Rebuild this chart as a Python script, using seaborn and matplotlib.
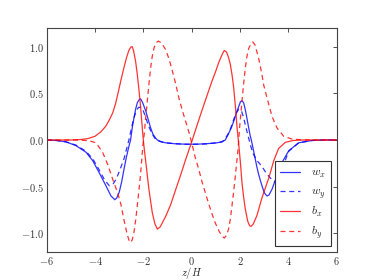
import matplotlib
matplotlib.use("Agg")
import matplotlib.pyplot as plt
import seaborn as sns
from matplotlib.ticker import FuncFormatter, MultipleLocator

# values
bx_z = [-6, -5, -4.6, -4.3, -4.0, -3.75, -3.55, -3.4, -3.27, -3.15, -3.06, -2.93, -2.8, -2.7,
        -2.6, -2.52, -2.46, -2.4, -2.32, -2.25, -2.18, -2.11, -2.02, -1.97, -1.88, -1.77, -1.63,
        -1.52, -1.42, -1.3, -1.08, -0.88, -0.66, -0.45, -0.25, 0.0, 0.2, 0.43, 0.64, 0.84, 1.0,
        1.12, 1.25, 1.35, 1.45, 1.53, 1.6, 1.67, 1.74, 1.81, 1.88, 1.95, 2.02, 2.08, 2.15, 2.22,
        2.32, 2.4, 2.46, 2.55, 2.7, 2.91, 3.12, 3.19, 3.4, 3.6, 3.88, 4.2, 4.6, 5, 6]
bx = [0, 0, 0.005, 0.015, 0.04, 0.09, 0.15, 0.22, 0.29, 0.39, 0.49, 0.64, 0.78, 0.88,
      0.96, 0.995, 1.0, 0.95, 0.84, 0.70, 0.53, 0.34, 0.05, -0.08, -0.28, -0.53, -0.78,
      -0.90, -0.955, -0.93, -0.82, -0.70, -0.53, -0.37, -0.21, -0.02, 0.14, 0.32, 0.48, 0.63, 0.74,
      0.83, 0.91, 0.96, 0.94, 0.88, 0.81, 0.70, 0.56, 0.36, 0.13, -0.05, -0.25, -0.45, -0.61, -0.74,
      -0.87, -0.92, -0.925, -0.90, -0.81, -0.62, -0.46, -0.41, -0.22, -0.09, -0.025, -0.005, 0, 0, 0]

by_z = [-6, -5, -4.6, -4.24, -3.96, -3.69, -3.48, -3.27, -3.06, -2.93, -2.8, -2.68, -2.6, -2.53,
        -2.46, -2.39, -2.32, -2.25, -2.18, -2.11, -2.02, -1.97, -1.9, -1.84, -1.77, -1.7, -1.63,
        -1.56, -1.48, -1.38, -1.25, -1.08, -0.94, -0.8, -0.66, -0.53, -0.39, -0.25, -0.1, 0.01,
        0.15, 0.29, 0.42, 0.56, 0.7, 0.84, 0.98, 1.12, 1.25, 1.35, 1.45, 1.53, 1.6, 1.67, 1.74,
        1.81, 1.88, 1.92, 1.98, 2.08, 2.15, 2.22, 2.29, 2.36, 2.45, 2.53, 2.62, 2.77, 2.91, 2.98,
        3.12, 3.33, 3.53, 3.81, 4.15, 4.6, 5, 6]
by = [0, 0, -0.002, -0.008, -0.03, -0.13, -0.26, -0.42, -0.57, -0.69, -0.86, -1.0, -1.07, -1.10,
      -1.07, -0.99, -0.86, -0.70, -0.53, -0.35, -0.06, 0.05, 0.25, 0.41, 0.60, 0.77, 0.90,
      0.985, 1.04, 1.06, 1.04, 0.97, 0.87, 0.74, 0.60, 0.45, 0.32, 0.2, 0.07, -0.04,
      -0.19, -0.31, -0.44, -0.56, -0.68, -0.79, -0.89, -0.97, -1.03, -1.05, -1.02, -0.95, -0.85, -0.70, -0.55,
      -0.38, -0.20, -0.10, 0.12, 0.41, 0.60, 0.77, 0.90, 0.98, 1.03, 1.05, 1.02, 0.88, 0.70, 0.59,
      0.45, 0.25, 0.13, 0.04, 0.01, 0.002, 0, 0]

wx_z = [-6, -5.6, -5.2, -4.79, -4.38, -4.1, -3.83, -3.55, -3.34, -3.18, -3.1, -3.0, -2.9, -2.8,
        -2.7, -2.6, -2.53, -2.45, -2.39, -2.32, -2.25, -2.18, -2.11, -2.03, -1.9, -1.8, -1.7,
        -1.6, -1.49, -1.42, -1.25, -1.08, -0.7, -0.25, 0.2, 0.6, 0.84, 1.05, 1.25, 1.39, 1.53,
        1.64, 1.74, 1.85, 1.95, 2.02, 2.08, 2.15, 2.22, 2.29, 2.36, 2.42, 2.47, 2.55, 2.63, 2.7,
        2.77, 2.84, 2.91, 3.0, 3.05, 3.12, 3.2, 3.33, 3.53, 3.74, 4.02, 4.43, 4.98, 5.5, 6]
wx = [0, -0.005, -0.02, -0.06, -0.13, -0.22, -0.35, -0.49, -0.60, -0.64, -0.62, -0.56, -0.45, -0.31,
      -0.18, -0.07, 0.0, 0.15, 0.235, 0.33, 0.40, 0.43, 0.44, 0.40, 0.31, 0.22, 0.13,
      0.06, 0.02, 0.0, -0.02, -0.03, -0.04, -0.045, -0.045, -0.04, -0.035, -0.03, -0.02, 0.0, 0.07,
      0.13, 0.2, 0.29, 0.36, 0.41, 0.42, 0.40, 0.325, 0.23, 0.13, 0.05, 0.0, -0.1, -0.2, -0.29,
      -0.365, -0.43, -0.49, -0.56, -0.58, -0.60, -0.59, -0.525, -0.38, -0.24, -0.115, -0.03, -0.005, 0, 0]

wy_z = [-6, -5.6, -5.2, -4.79, -4.38, -4.1, -3.83, -3.6, -3.41, -3.25, -3.13, -3.0, -2.9, -2.8,
        -2.7, -2.6, -2.5, -2.4, -2.3, -2.2, -2.1, -2.0, -1.9, -1.8, -1.7, -1.6, -1.5, -1.4,
        -1.08, -0.7, -0.25, 0.2, 0.6, 0.84, 1.05, 1.25, 1.35, 1.5, 1.62, 1.74, 1.85, 1.95, 2.05,
        2.15, 2.25, 2.35, 2.45, 2.55, 2.7, 2.9, 3.1, 3.3, 3.45, 3.6, 3.75, 3.9, 4.02, 4.43, 4.98,
        5.5, 6]
wy = [0, -0.005, -0.02, -0.055, -0.12, -0.2, -0.32, -0.43, -0.49, -0.47, -0.42, -0.34, -0.27, -0.2,
      -0.1, 0.0, 0.12, 0.23, 0.31, 0.35, 0.35, 0.31, 0.24, 0.16, 0.1, 0.05, 0.01, -0.01,
      -0.03, -0.04, -0.045, -0.045, -0.042, -0.035, -0.03, -0.02, 0.0, 0.06, 0.13, 0.22, 0.29, 0.33, 0.32,
      0.24, 0.13, 0.03, -0.07, -0.15, -0.22, -0.28, -0.36, -0.42, -0.45, -0.43, -0.33, -0.2, -0.12, -0.03, -0.005,
      0, 0]

sns.set_style("white")
plt.rcParams["mathtext.fontset"] = "cm"
plt.rcParams["font.family"] = ["DejaVu Serif"]

fig, ax = plt.subplots(figsize=(3.74, 2.8), dpi=100)
fig.subplots_adjust(left=0.125, right=0.9, bottom=0.1, top=0.9)

lw = 0.9
sns.lineplot(x=wx_z, y=wx, ax=ax, color="b", lw=lw, alpha=0.8, sort=False, estimator=None, label="$w_x$")
sns.lineplot(x=wy_z, y=wy, ax=ax, color="b", lw=lw, alpha=0.8, sort=False, estimator=None,
             linestyle=(0, (4, 3)), label="$w_y$")
sns.lineplot(x=bx_z, y=bx, ax=ax, color="r", lw=lw, alpha=0.8, sort=False, estimator=None, label="$b_x$")
sns.lineplot(x=by_z, y=by, ax=ax, color="r", lw=lw, alpha=0.8, sort=False, estimator=None,
             linestyle=(0, (4, 3)), label="$b_y$")

ax.set_xlim(-6, 6)
ax.set_ylim(-1.2, 1.2)
ax.xaxis.set_major_locator(MultipleLocator(2))
ax.yaxis.set_major_locator(MultipleLocator(0.5))
ax.xaxis.set_major_formatter(FuncFormatter(lambda v, p: f"${v:.0f}$"))
ax.yaxis.set_major_formatter(FuncFormatter(lambda v, p: f"${v:.1f}$"))
ax.tick_params(direction="in", length=3, width=0.6, labelsize=7.5, top=True, right=True,
               colors="#333333", pad=2)
for s in ax.spines.values():
    s.set_linewidth(0.8)
    s.set_color("#444444")
ax.set_xlabel("$z/H$", fontsize=7.5, labelpad=-1)

leg = ax.legend(loc="lower right", fontsize=8.5, fancybox=False, framealpha=1,
                edgecolor="#333333", handlelength=1.7, borderaxespad=0.5, labelspacing=0.4,
                handletextpad=0.9, borderpad=0.45)
leg.get_frame().set_linewidth(0.8)

fig.savefig("out.png", dpi=100)
